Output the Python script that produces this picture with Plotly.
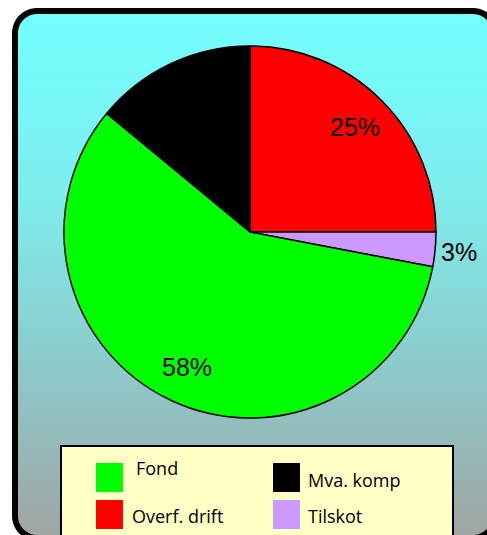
import numpy as np
import plotly.graph_objects as go

# Slices, clockwise from 12 o'clock
labels = ["Overf. drift", "Tilskot", "Fond", "Mva. komp"]
values = [25, 3, 58, 14]
colors = ["#FF0000", "#CC99FF", "#00FF00", "#000000"]
show_pct = [True, True, True, False]

# Legend order (two rows, two columns)
legend_order = ["Fond", "Mva. komp", "Overf. drift", "Tilskot"]

W, H = 487, 535


def rounded_rect(x0, y0, x1, y1, r, n=12):
    """Return x, y lists for a rounded rectangle outline (pixel coords)."""
    xs, ys = [], []
    corners = [
        (x1 - r, y0 + r, -90, 0),
        (x1 - r, y1 - r, 0, 90),
        (x0 + r, y1 - r, 90, 180),
        (x0 + r, y0 + r, 180, 270),
    ]
    for cx, cy, a0, a1 in corners:
        for a in np.linspace(np.radians(a0), np.radians(a1), n):
            xs.append(cx + r * np.cos(a))
            ys.append(cy + r * np.sin(a))
    xs.append(xs[0])
    ys.append(ys[0])
    return xs, ys


fig = go.Figure()

# Background panel with vertical gradient
fx, fy = rounded_rect(15, 11, 495, 538, 22)
fig.add_trace(
    go.Scatter(
        x=fx, y=fy,
        mode="none",
        fill="toself",
        fillgradient=dict(
            type="vertical",
            start=11, stop=535,
            colorscale=[
                [0.0, "#73FFFF"],
                [0.35, "#7EEDED"],
                [0.82, "#94BABA"],
                [1.0, "#A0A4A4"],
            ],
        ),
        hoverinfo="skip",
        showlegend=False,
    )
)
frame_path = "M " + " L ".join(f"{x:.1f},{y:.1f}" for x, y in zip(fx, fy)) + " Z"

# Pie
cx, cy, r = 250, 232, 186
fig.add_trace(
    go.Pie(
        labels=labels,
        values=values,
        sort=False,
        direction="clockwise",
        rotation=0,
        marker=dict(colors=colors, line=dict(color="black", width=1.5)),
        textinfo="none",
        domain=dict(
            x=[(cx - r) / W, (cx + r) / W],
            y=[(H - cy - r) / H, (H - cy + r) / H],
        ),
        showlegend=False,
    )
)

# Percent labels placed at each slice's mid-angle
label_radius = [0.80, 1.13, 0.80, 0.75]
annotations = []
total = sum(values)
cum = 0
for v, show, rf in zip(values, show_pct, label_radius):
    mid = 2 * np.pi * (cum + v / 2) / total
    cum += v
    if not show:
        continue
    annotations.append(dict(
        x=cx + rf * r * np.sin(mid), y=cy - rf * r * np.cos(mid),
        xref="x", yref="y", text=f"{round(100 * v / total)}%", showarrow=False,
        font=dict(family="Liberation Sans", size=25, color="black"),
    ))

# Frame border, then custom legend box on top
shapes = [
    dict(type="path", xref="x", yref="y", path=frame_path,
         line=dict(color="black", width=6), layer="above"),
    dict(type="rect", xref="x", yref="y", x0=61, y0=446, x1=453, y1=545,
         fillcolor="#FFFFC6", line=dict(color="black", width=2), layer="above"),
]
color_of = dict(zip(labels, colors))
slots = [(96, 463, 134, 468), (273, 463, 306, 480),
         (96, 500, 130, 516), (273, 500, 306, 516)]
for name, (sx, sy, tx, ty) in zip(legend_order, slots):
    shapes.append(dict(type="rect", xref="x", yref="y", x0=sx, y0=sy, x1=sx + 27, y1=sy + 29,
                       fillcolor=color_of[name], line=dict(width=0), layer="above"))
    annotations.append(dict(x=tx, y=ty, xref="x", yref="y", text=name, showarrow=False,
                            xanchor="left", yanchor="middle",
                            font=dict(family="Open Sans", size=18, color="black")))

fig.update_layout(
    width=W, height=H,
    margin=dict(l=0, r=0, t=0, b=0),
    paper_bgcolor="white",
    plot_bgcolor="rgba(0,0,0,0)",
    xaxis=dict(range=[0, W], visible=False, fixedrange=True),
    yaxis=dict(range=[H, 0], visible=False, fixedrange=True),
    shapes=shapes,
    annotations=annotations,
)

fig.write_html(
    "out.html",
    config={"displayModeBar": False},
    post_script="document.body.style.margin='0';document.body.style.overflow='hidden';",
)
